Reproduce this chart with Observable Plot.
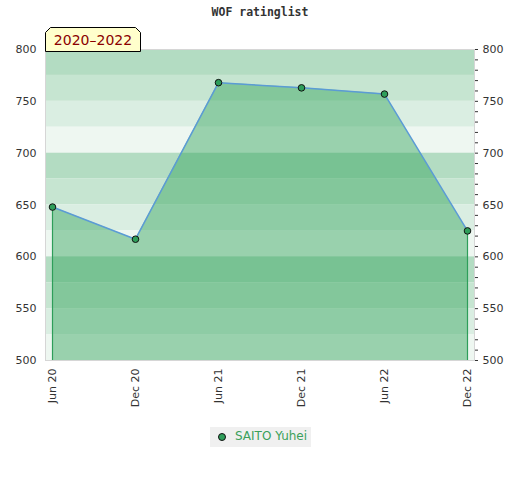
<!DOCTYPE html>
<html>
<head>
<meta charset="utf-8">
<script src="https://cdn.jsdelivr.net/npm/d3@7"></script>
<script src="https://cdn.jsdelivr.net/npm/@observablehq/plot@0.6"></script>
<style>
  body { margin: 0; background: #fff; font-family: "DejaVu Sans", sans-serif; }
  #wrap { position: relative; width: 520px; height: 480px; }
  #title { position: absolute; top: 5px; left: 0; width: 520px; text-align: center;
           font: bold 11.5px "DejaVu Sans Mono", monospace; color: #333; }
  #chart { position: absolute; top: 0; left: 0; }
  #tag { position: absolute; left: 45px; top: 27px; }
  #legend { position: absolute; left: 210px; top: 427px; width: 101px; height: 20px;
            background: #f0f0f0; font-size: 12px; color: #3aa05a; }
  #legend .dot { position: absolute; left: 8px; top: 6px; width: 6px; height: 6px;
                 border-radius: 50%; background: #2e9e5a; border: 1px solid #111; }
  #legend .txt { position: absolute; left: 25px; top: 2px; white-space: nowrap; }
</style>
</head>
<body>
<div id="wrap">
  <div id="chart"></div>
  <div id="title">WOF ratinglist</div>
  <svg id="tag" width="97" height="25">
    <path d="M0.5,24.5 L0.5,5.5 L5.5,0.5 L90.5,0.5 L95.5,5.5 L95.5,24.5 Z" fill="#ffffcc" stroke="#000" stroke-width="1"/>
    <text x="48" y="18" text-anchor="middle" font-family="DejaVu Sans" font-size="14" fill="#8b0000">2020–2022</text>
  </svg>
  <div id="legend"><span class="dot"></span><span class="txt">SAITO Yuhei</span></div>
</div>
<script>
const labels = ["Jun 20", "Dec 20", "Jun 21", "Dec 21", "Jun 22", "Dec 22"];
const values = [648, 617, 768, 763, 757, 625];
const yTicks = [500, 550, 600, 650, 700, 750, 800];
const seriesName = "SAITO Yuhei";

const bandShades = ["#b3dcc2", "#c6e5d1", "#daeee2", "#eef7f1"];
const data = labels.map((l, i) => ({label: l, value: values[i]}));

const bands = [];
for (let top = 800, k = 0; top > 500; top -= 25, k++) {
  bands.push({y1: top - 25, y2: top, fill: bandShades[k % 4]});
}
const minor = d3.range(500, 801, 10);
const ends = [data[0], data[data.length - 1]];

const chart = Plot.plot({
  width: 520,
  height: 420,
  marginTop: 49,
  marginBottom: 60,
  marginLeft: 45,
  marginRight: 46,
  style: {fontFamily: "DejaVu Sans", fontSize: "11px", color: "#333", background: "transparent"},
  x: {type: "point", domain: labels, padding: 0, insetLeft: 6, insetRight: 7},
  y: {domain: [500, 800]},
  marks: [
    Plot.rectY(bands, {y1: "y1", y2: "y2", fill: "fill"}),
    Plot.areaY(data, {x: "label", y1: 500, y2: "value", fill: "#2da156", fillOpacity: 0.44}),
    Plot.ruleX(ends, {x: "label", y1: 500, y2: "value", stroke: "#2e9e5a", strokeWidth: 1.2}),
    Plot.lineY(data, {x: "label", y: "value", stroke: "#5b9bd5", strokeWidth: 1.5}),
    Plot.dot(data, {x: "label", y: "value", r: 3.3, fill: "#2e9e5a", stroke: "#111", strokeWidth: 1}),
    Plot.frame({stroke: "#d6d6d6"}),
    Plot.axisY({anchor: "left", ticks: yTicks, tickSize: 0, tickPadding: 9, label: null}),
    Plot.axisY({anchor: "right", ticks: minor, tickSize: 3, tickFormat: () => "", label: null, stroke: "#333"}),
    Plot.axisY({anchor: "right", ticks: yTicks, tickSize: 0, tickPadding: 8, label: null}),
    Plot.axisX({ticks: labels, tickSize: 0, tickPadding: 8, tickRotate: -90, label: null})
  ]
});
document.getElementById("chart").appendChild(chart);
</script>
</body>
</html>
